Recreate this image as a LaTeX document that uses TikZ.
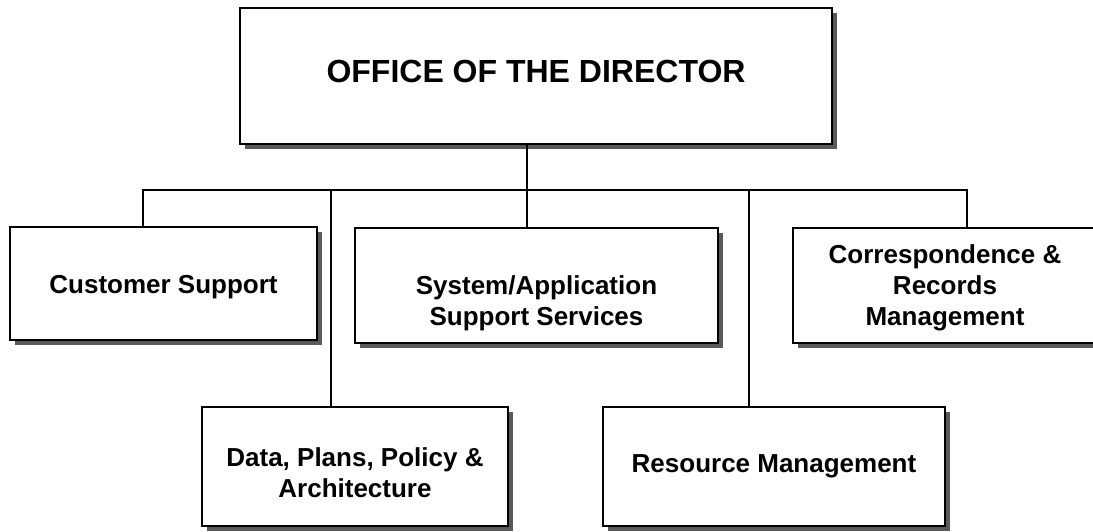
\documentclass[tikz,border=0pt]{standalone}
\usepackage{fontspec}
\setmainfont{Liberation Sans}
\usetikzlibrary{shadows}

\tikzset{
    unit/.style={draw, line width=1.6pt, fill=white, align=center,
        font=\bfseries\fontsize{26}{31}\selectfont,
        drop shadow={shadow xshift=5pt, shadow yshift=-5pt, fill=black!65, opacity=1}},
    link/.style={line width=1.2pt}
}

\begin{document}
\begin{tikzpicture}[x=1pt, y=-1pt]
        \useasboundingbox (0,0) rectangle (1093,532);
        % boxes
        \node[unit, minimum width=592pt, minimum height=136pt, text depth=10pt,
            font=\bfseries\fontsize{32}{38}\selectfont] (dir) at (536,76) {OFFICE OF THE DIRECTOR};
        \node[unit, minimum width=307pt, minimum height=113pt, text height=25pt] (cs) at (163.5,283.5) {Customer Support};
        \node[unit, minimum width=363pt, minimum height=115pt, text height=85pt] (sys) at (536.5,285.5) {System/Application\\Support Services};
        \node[unit, minimum width=304pt, minimum height=115pt, text height=85pt] (crm) at (945,285.5) {Correspondence \&\\Records\\Management};
        \node[unit, minimum width=306pt, minimum height=119pt, text height=63pt] (dpp) at (355,466.5) {Data, Plans, Policy \&\\Architecture};
        \node[unit, minimum width=342pt, minimum height=119pt] (res) at (774,466.5) {Resource Management};
        % lines
        \coordinate (barL) at (143,190);
        \coordinate (barR) at (967,190);
        \coordinate (trunk) at (527,190);
        \coordinate (tapL) at (331,190);
        \coordinate (tapR) at (749,190);
        \draw[link] (barL |- cs.north) -- (barL) -- (barR) -- (barR |- crm.north);
        \draw[link] (trunk |- dir.south) -- (trunk |- sys.north);
        \draw[link] (tapL) -- (tapL |- dpp.north);
        \draw[link] (tapR) -- (tapR |- res.north);
    \end{tikzpicture}
\end{document}
